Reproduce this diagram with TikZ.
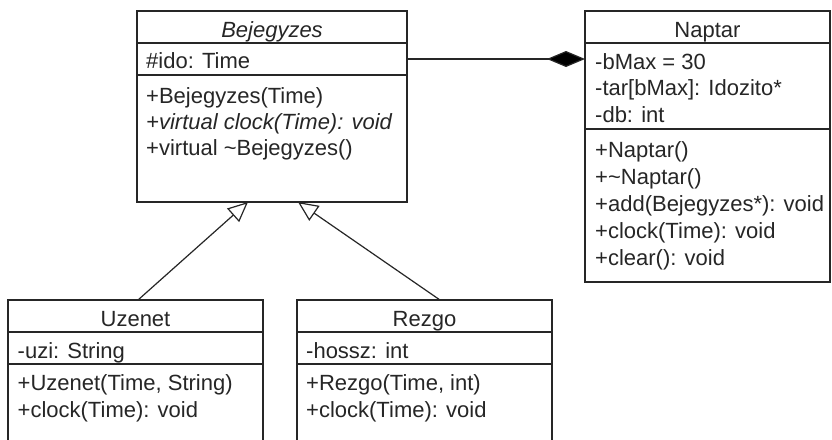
\documentclass[tikz,border=0pt]{standalone}
\usepackage{fontspec}
\setmainfont{Liberation Sans}
\usetikzlibrary{arrows.meta,calc}

\tikzset{
  classbox/.style={draw=black!85, line width=1.2pt, fill=white, rectangle, inner sep=0pt, outer sep=0pt, anchor=north west},
  member/.style={inner sep=0pt, anchor=base west, text=black!85, font=\fontsize{22}{26}\selectfont},
  ctitle/.style={inner sep=0pt, anchor=base, text=black!85, font=\fontsize{22}{26}\selectfont},
  sepline/.style={draw=black!85, line width=1.2pt},
  inherit/.style={draw=black!85, line width=1.2pt, -{Triangle[open, length=20pt, width=18pt, fill=white]}},
  compose/.style={draw=black!85, line width=1.2pt, -{Diamond[length=38pt, width=16pt, fill=black]}},
}

\begin{document}
\begin{tikzpicture}[x=1pt, y=-1pt]
\useasboundingbox (0,0) rectangle (832,439);
\clip (0,0) rectangle (832,439);
\fill[white] (0,0) rectangle (832,439);

% ---- Bejegyzes (abstract) ----
\node[classbox, minimum width=270pt, minimum height=191pt] (bej) at (137,11) {};
\node[ctitle] (bejT) at (272,37) {\itshape Bejegyzes};
\draw[sepline] (137,43) -- (407,43);
\draw[sepline] (137,75) -- (407,75);
\node[member] (bejA1) at (146,68.5) {\#ido: Time};
\node[member] (bejM1) at (146,103) {+Bejegyzes(Time)};
\node[member] (bejM2) at (146,129) {\itshape +virtual clock(Time): void};
\node[member] (bejM3) at (146,155) {+virtual \char`\~Bejegyzes()};

% ---- Naptar ----
\node[classbox, minimum width=245pt, minimum height=271pt] (nap) at (585,11) {};
\node[ctitle] (napT) at (707.5,37) {Naptar};
\draw[sepline] (585,43) -- (830,43);
\draw[sepline] (585,129) -- (830,129);
\node[member] (napA1) at (595,69) {-bMax = 30};
\node[member] (napA2) at (595,95.5) {-tar[bMax]: Idozito*};
\node[member] (napA3) at (595,122) {-db: int};
\node[member] (napM1) at (595,157) {+Naptar()};
\node[member] (napM2) at (595,184) {+\char`\~Naptar()};
\node[member] (napM3) at (595,211) {+add(Bejegyzes*): void};
\node[member] (napM4) at (595,238) {+clock(Time): void};
\node[member] (napM5) at (595,265) {+clear(): void};

% ---- Uzenet ----
\node[classbox, minimum width=255pt, minimum height=160pt] (uz) at (8,300) {};
\node[ctitle] (uzT) at (135.5,326.5) {Uzenet};
\draw[sepline] (8,332) -- (263,332);
\draw[sepline] (8,364) -- (263,364);
\node[member] (uzA1) at (17.5,358) {-uzi: String};
\node[member] (uzM1) at (17.5,390) {+Uzenet(Time, String)};
\node[member] (uzM2) at (17.5,417) {+clock(Time): void};

% ---- Rezgo ----
\node[classbox, minimum width=255pt, minimum height=160pt] (rez) at (297,300) {};
\node[ctitle] (rezT) at (424.5,326.5) {Rezgo};
\draw[sepline] (297,332) -- (552,332);
\draw[sepline] (297,364) -- (552,364);
\node[member] (rezA1) at (306,358) {-hossz: int};
\node[member] (rezM1) at (306,390) {+Rezgo(Time, int)};
\node[member] (rezM2) at (306,417) {+clock(Time): void};

% ---- connectors ----
\coordinate (uzTop) at ($(uz.north west)+(130,0)$);
\coordinate (rezTop) at ($(rez.north west)+(143,0)$);
\coordinate (bejTipL) at ($(bej.south west)+(111,0)$);
\coordinate (bejTipR) at ($(bej.south west)+(161,0)$);
\draw[inherit] (uzTop) -- (bejTipL);
\draw[inherit] (rezTop) -- (bejTipR);

\coordinate (bejR) at ($(bej.north east)+(0,48)$);
\coordinate (napL) at ($(nap.north west)+(0,48)$);
\draw[compose] (bejR) -- (napL);
\end{tikzpicture}
\end{document}
